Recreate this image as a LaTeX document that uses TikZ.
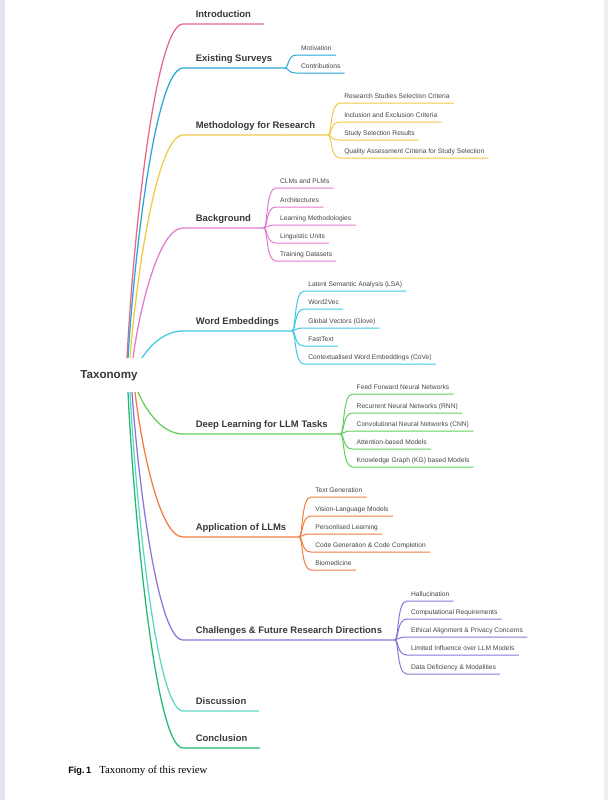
\documentclass[tikz,border=0pt]{standalone}
\usepackage{fontspec}
\setmainfont{Liberation Serif}
\newfontfamily\sansf{Liberation Sans}
\usetikzlibrary{calc}
\definecolor{cintro}{HTML}{E56A86}
\definecolor{cexist}{HTML}{2AA6D6}
\definecolor{cmeth}{HTML}{F1CA45}
\definecolor{cback}{HTML}{E07BD0}
\definecolor{cword}{HTML}{3ECAE2}
\definecolor{cdeep}{HTML}{62CE5E}
\definecolor{cappl}{HTML}{EF7E3E}
\definecolor{cchal}{HTML}{8E74DA}
\definecolor{cdisc}{HTML}{5CD8C4}
\definecolor{cconc}{HTML}{22B86E}
\definecolor{edgeL}{HTML}{E4E4EC}
\definecolor{edgeR}{HTML}{EEEEEE}
\definecolor{txt}{HTML}{383838}
\definecolor{txtsmall}{HTML}{454545}
\tikzset{
  topnode/.style={font=\sansf\bfseries\fontsize{7.1}{8}\selectfont, text=txt,
    inner xsep=9.4pt, inner ysep=4.95pt, text depth=0pt, anchor=south west},
  kidnode/.style={font=\sansf\fontsize{5}{6}\selectfont, text=txtsmall,
    inner xsep=3pt, inner ysep=3.45pt, text depth=0pt, anchor=south west},
  topline/.style={line width=0.95pt},
  kidline/.style={line width=0.75pt},
}
\newcommand\kid[5]{%
  \node[kidnode] (#1) at ($(#2.south east)+(12,#3)$) {#4};
  \draw[kidline,#5] (#2.south east) .. controls +(4,0) and +(-10,0) .. (#1.south west) -- (#1.south east);}
\begin{document}
\begin{tikzpicture}[x=0.75pt,y=-0.75pt]
\useasboundingbox (0,0) rectangle (608,800);
\fill[edgeL] (0,0) rectangle (5,800);
\fill[edgeR] (604,0) rectangle (608,800);

\node[font=\sansf\bfseries\fontsize{8.7}{10}\selectfont, text=txt] (root) at (109,376) {Taxonomy};

\coordinate (r1) at (127,358);
\coordinate (r2) at (128,358);
\coordinate (r3) at (130,358);
\coordinate (r4) at (133,358);
\coordinate (r5) at (142,358);
\coordinate (r6) at (138,392);
\coordinate (r7) at (135,392);
\coordinate (r8) at (132,392);
\coordinate (r9) at (130,392);
\coordinate (r10) at (128,392);

% top-level nodes
\node[topnode] (intro) at (183,24) {Introduction};
\node[topnode] (exist) at (183,68) {Existing Surveys};
\node[topnode] (meth) at (183,135) {Methodology for Research};
\node[topnode] (back) at (183,228) {Background};
\node[topnode] (word) at (183,331) {Word Embeddings};
\node[topnode] (deep) at (183,434) {Deep Learning for LLM Tasks};
\node[topnode] (appl) at (183,537) {Application of LLMs};
\node[topnode] (chal) at (183,640) {Challenges \& Future Research Directions};
\node[topnode] (disc) at (183,711) {Discussion};
\node[topnode] (conc) at (183,748) {Conclusion};

\draw[topline,cintro] (r1) .. controls (133,241) and (155,24) .. (intro.south west) -- (intro.south east);
\draw[topline,cexist] (r2) .. controls (134,257) and (155.5,68) .. (exist.south west) -- (exist.south east);
\draw[topline,cmeth] (r3) .. controls (136,280) and (156.5,135) .. (meth.south west) -- (meth.south east);
\draw[topline,cback] (r4) .. controls (139,312.5) and (158,228) .. (back.south west) -- (back.south east);
\draw[topline,cword] (r5) .. controls (148,348.5) and (162.5,331) .. (word.south west) -- (word.south east);
\draw[topline,cdeep] (r6) .. controls (144,406.7) and (160.5,434) .. (deep.south west) -- (deep.south east);
\draw[topline,cappl] (r7) .. controls (141,442.75) and (159,537) .. (appl.south west) -- (appl.south east);
\draw[topline,cchal] (r8) .. controls (138,478.8) and (157.5,640) .. (chal.south west) -- (chal.south east);
\draw[topline,cdisc] (r9) .. controls (136,503.65) and (156.5,711) .. (disc.south west) -- (disc.south east);
\draw[topline,cconc] (r10) .. controls (134,516.6) and (155.5,748) .. (conc.south west) -- (conc.south east);

% children
\kid{e1}{exist}{-13}{Motivation}{cexist}
\kid{e2}{exist}{5}{Contributions}{cexist}

\kid{m1}{meth}{-32}{Research Studies Selection Criteria}{cmeth}
\kid{m2}{meth}{-13}{Inclusion and Exclusion Criteria}{cmeth}
\kid{m3}{meth}{5}{Study Selection Results}{cmeth}
\kid{m4}{meth}{23}{Quality Assessment Criteria for Study Selection}{cmeth}

\kid{b1}{back}{-40}{CLMs and PLMs}{cback}
\kid{b2}{back}{-21}{Architectures}{cback}
\kid{b3}{back}{-3}{Learning Methodologies}{cback}
\kid{b4}{back}{15}{Linguistic Units}{cback}
\kid{b5}{back}{33}{Training Datasets}{cback}

\kid{w1}{word}{-40}{Latent Semantic Analysis (LSA)}{cword}
\kid{w2}{word}{-22}{Word2Vec}{cword}
\kid{w3}{word}{-3}{Global Vectors (Glove)}{cword}
\kid{w4}{word}{15}{FastText}{cword}
\kid{w5}{word}{33}{Contextualised Word Embeddings (CoVe)}{cword}

\kid{d1}{deep}{-40}{Feed Forward Neural Networks}{cdeep}
\kid{d2}{deep}{-21}{Recurrent Neural Networks (RNN)}{cdeep}
\kid{d3}{deep}{-3}{Convolutional Neural Networks (CNN)}{cdeep}
\kid{d4}{deep}{15}{Attention-based Models}{cdeep}
\kid{d5}{deep}{33}{Knowledge Graph (KG) based Models}{cdeep}

\kid{a1}{appl}{-40}{Text Generation}{cappl}
\kid{a2}{appl}{-21}{Vision-Language Models}{cappl}
\kid{a3}{appl}{-3}{Personlised Learning}{cappl}
\kid{a4}{appl}{15}{Code Generation \& Code Completion}{cappl}
\kid{a5}{appl}{33}{Biomedicine}{cappl}

\kid{c1}{chal}{-39}{Hallucination}{cchal}
\kid{c2}{chal}{-21}{Computational Requirements}{cchal}
\kid{c3}{chal}{-3}{Ethical Alignment \& Privacy Concerns}{cchal}
\kid{c4}{chal}{15}{Limited Influence over LLM Models}{cchal}
\kid{c5}{chal}{34}{Data Deficiency \& Modalities}{cchal}

% caption
\node[anchor=west, inner sep=0pt, font=\sansf\bfseries\fontsize{6.9}{8}\selectfont] (figlab) at (68,771) {Fig.\,1};
\node[anchor=west, inner sep=0pt, font=\fontsize{8.1}{10}\selectfont] (figtxt) at (99,771) {Taxonomy of this review};
\end{tikzpicture}
\end{document}
